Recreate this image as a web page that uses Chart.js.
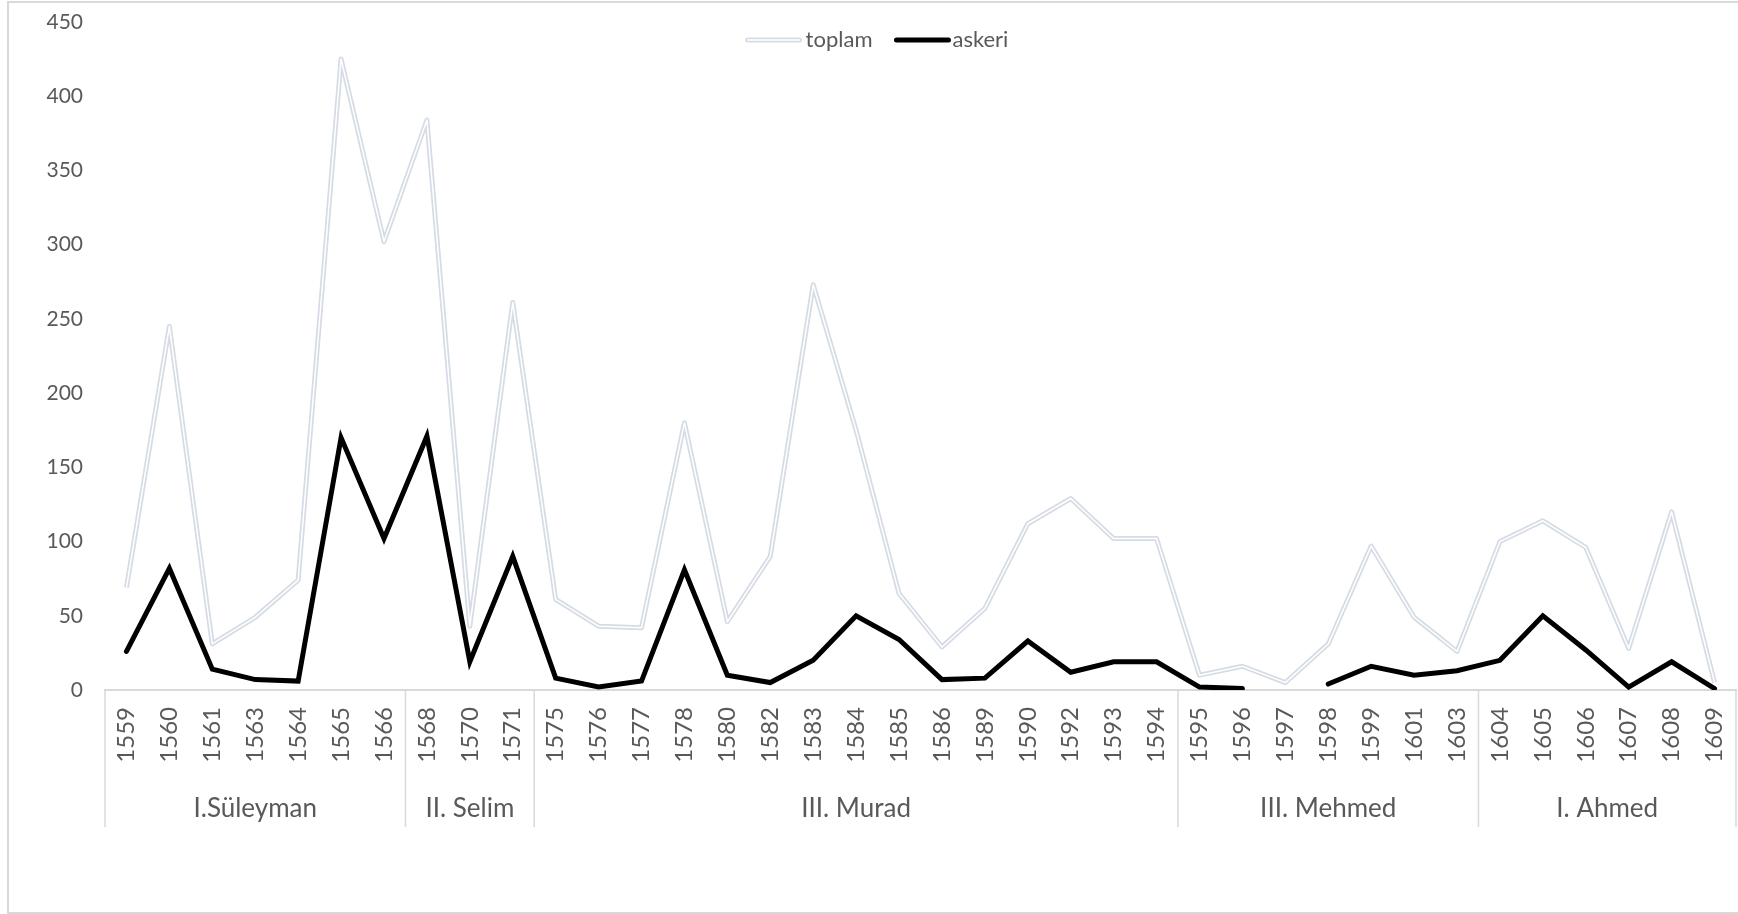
<!DOCTYPE html>
<html>
<head>
<meta charset="utf-8">
<script src="https://cdn.jsdelivr.net/npm/chart.js@4.4.0/dist/chart.umd.min.js"></script>
<style>
  html, body { margin: 0; padding: 0; background: #fff; overflow: hidden; }
  #wrap { position: relative; width: 1738px; height: 914px; }
  #frame { position: absolute; left: 7px; top: 1px; width: 1760px; height: 909px; border: 2px solid #d9d9d9; pointer-events: none; }
  canvas { position: absolute; left: 0; top: 0; }
</style>
</head>
<body>
<div id="wrap">
  <canvas id="chart" width="1738" height="914"></canvas>
  <div id="frame"></div>
</div>
<script>
// years on the x axis
const years = [1559, 1560, 1561, 1563, 1564, 1565, 1566,
  1568, 1570, 1571,
  1575, 1576, 1577, 1578, 1580, 1582, 1583, 1584, 1585, 1586, 1589, 1590, 1592, 1593, 1594,
  1595, 1596, 1597, 1598, 1599, 1601, 1603,
  1604, 1605, 1606, 1607, 1608, 1609];

// series
const toplam = [69, 245, 31, 49, 74, 425, 302, 384, 43, 261,
  61, 43, 42, 180, 46, 90, 273, 175, 65, 29, 55, 112, 129, 102, 102,
  10, 16, 5, 31, 97, 49, 26,
  100, 114, 96, 28, 120, 5];
const askeri = [26, 82, 14, 7, 6, 170, 102, 171, 19, 90,
  8, 2, 6, 81, 10, 5, 20, 50, 34, 7, 8, 33, 12, 19, 19,
  2, 1, null, 4, 16, 10, 13,
  20, 50, 27, 2, 19, 1];

// sultans (second row of the x axis)
const sultans = ['I.Süleyman', 'II. Selim', 'III. Murad', 'III. Mehmed', 'I. Ahmed'];
const sultanYears = [7, 3, 15, 7, 6];

const yTicks = [0, 50, 100, 150, 200, 250, 300, 350, 400, 450];

const grey = '#595959';
const lineGrey = '#d9d9d9';
const toplamColor = '#d6dce5';
const font = 'Lato';

// two-level x axis: separators and sultan names
const groupAxis = {
  id: 'groupAxis',
  afterDraw(chart) {
    const x = chart.scales.x;
    const ctx = chart.ctx;
    const top = x.top;
    const bottom = top + 137;
    ctx.save();
    ctx.strokeStyle = lineGrey;
    ctx.lineWidth = 1.5;
    ctx.fillStyle = grey;
    ctx.font = '26px ' + font;
    ctx.textAlign = 'center';
    ctx.textBaseline = 'middle';
    let start = 0;
    for (let g = 0; g < sultans.length; g++) {
      const end = start + sultanYears[g] - 1;
      const left = x.getPixelForValue(start - 0.5);
      const right = x.getPixelForValue(end + 0.5);
      ctx.beginPath();
      ctx.moveTo(left, top);
      ctx.lineTo(left, bottom);
      if (g === sultans.length - 1) {
        ctx.moveTo(right, top);
        ctx.lineTo(right, bottom);
      }
      ctx.stroke();
      ctx.fillText(sultans[g], (left + right) / 2, top + 119);
      start = end + 1;
    }
    ctx.restore();
  }
};

// legend drawn over the plot, like the original
const overLegend = {
  id: 'overLegend',
  afterDatasetsDraw(chart) {
    const ctx = chart.ctx;
    const y = 40;
    const sample = 52;
    ctx.save();
    ctx.font = '22px ' + font;
    ctx.textBaseline = 'middle';
    ctx.textAlign = 'left';
    ctx.lineCap = 'round';
    const w1 = ctx.measureText('toplam').width;
    const w2 = ctx.measureText('askeri').width;
    const total = sample + 6 + w1 + 24 + sample + 4 + w2;
    let x = chart.width / 2 + 9 - total / 2;
    ctx.strokeStyle = toplamColor;
    ctx.lineWidth = 5;
    ctx.beginPath(); ctx.moveTo(x, y); ctx.lineTo(x + sample, y); ctx.stroke();
    ctx.strokeStyle = '#fff';
    ctx.lineWidth = 1.5;
    ctx.beginPath(); ctx.moveTo(x, y); ctx.lineTo(x + sample, y); ctx.stroke();
    x += sample + 6;
    ctx.fillStyle = grey;
    ctx.fillText('toplam', x, y);
    x += w1 + 24;
    ctx.strokeStyle = '#000';
    ctx.lineWidth = 5;
    ctx.beginPath(); ctx.moveTo(x, y); ctx.lineTo(x + sample, y); ctx.stroke();
    x += sample + 4;
    ctx.fillText('askeri', x, y);
    ctx.restore();
  }
};

const ctx = document.getElementById('chart').getContext('2d');
const chart = new Chart(ctx, {
  type: 'line',
  data: {
    labels: years.map(String),
    datasets: [
      {
        label: 'toplam',
        data: toplam,
        borderColor: toplamColor,
        borderWidth: 5,
        borderJoinStyle: 'round',
        pointRadius: 0,
        tension: 0,
        order: 3
      },
      {
        label: 'toplam-inner',
        data: toplam,
        borderColor: '#ffffff',
        borderWidth: 1.5,
        borderJoinStyle: 'round',
        pointRadius: 0,
        tension: 0,
        order: 2
      },
      {
        label: 'askeri',
        data: askeri,
        borderColor: '#000000',
        borderWidth: 5,
        borderJoinStyle: 'miter',
        borderCapStyle: 'round',
        pointRadius: 0,
        tension: 0,
        spanGaps: false,
        order: 1
      }
    ]
  },
  options: {
    responsive: false,
    devicePixelRatio: 1,
    animation: false,
    layout: { padding: { top: 22, right: 2, left: 0, bottom: 0 } },
    plugins: {
      legend: { display: false },
      tooltip: { enabled: false }
    },
    scales: {
      x: {
        offset: true,
        grid: { display: false, drawTicks: false },
        border: { display: true, color: lineGrey, width: 2 },
        ticks: {
          color: grey,
          font: { family: font, size: 24 },
          minRotation: 90,
          maxRotation: 90,
          autoSkip: false,
          padding: 17
        },
        afterFit(scale) {
          scale.height = 224;
          scale.paddingLeft = 0;
          scale.paddingRight = 0;
        }
      },
      y: {
        min: 0,
        max: 450,
        grid: { display: false, drawTicks: false },
        border: { display: false },
        afterBuildTicks(scale) { scale.ticks = yTicks.map(v => ({ value: v })); },
        ticks: {
          color: grey,
          font: { family: font, size: 21 },
          padding: 22
        },
        afterFit(scale) {
          scale.width = 105;
          scale.paddingTop = 0;
          scale.paddingBottom = 0;
        }
      }
    }
  },
  plugins: [groupAxis, overLegend]
});
</script>
</body>
</html>
